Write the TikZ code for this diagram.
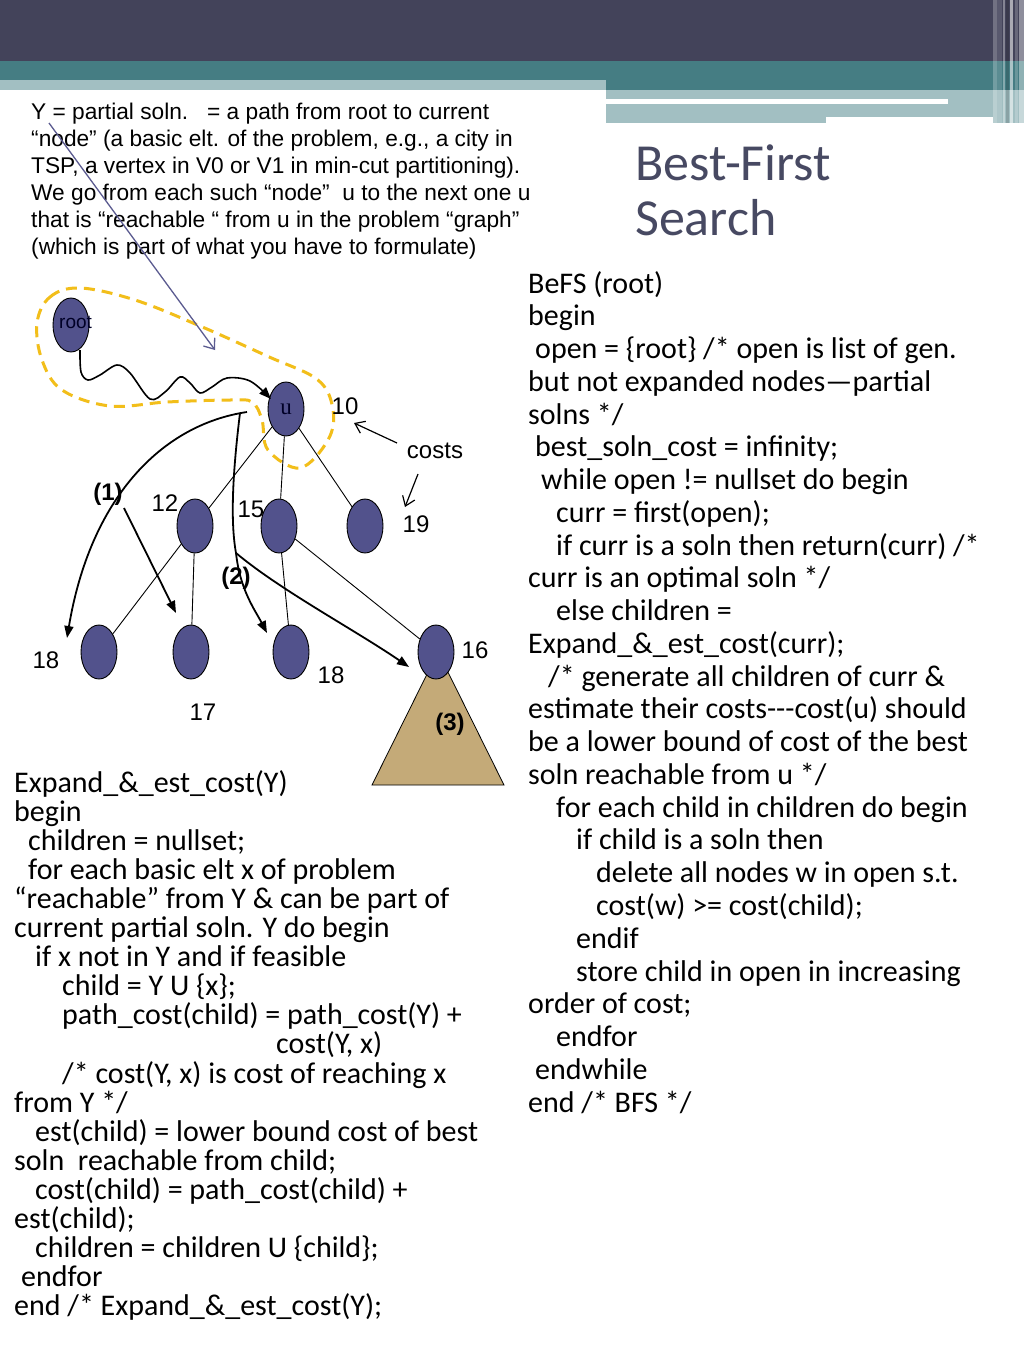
\documentclass[tikz,border=0pt]{standalone}
\usepackage{fontspec}
\setmainfont{Carlito}
\newfontfamily\arialf{Liberation Sans}
\newfontfamily\timesf{Liberation Serif}
\usetikzlibrary{shapes.geometric,arrows.meta}
\definecolor{darkband}{HTML}{43435A}
\definecolor{tealband}{HTML}{457D83}
\definecolor{lightteal}{HTML}{A2BFC2}
\definecolor{nodeblue}{RGB}{82,82,140}
\definecolor{titlecol}{HTML}{474962}
\definecolor{loopyellow}{HTML}{F2BE1A}
\definecolor{pointer}{HTML}{5B5B90}
\definecolor{treetan}{RGB}{196,170,120}
\tikzset{
  vnode/.style={ellipse, draw=black, line width=0.9pt, fill=nodeblue, minimum width=36pt, minimum height=54pt, inner sep=0pt},
  codeline/.style={anchor=base west, inner sep=0pt, font=\fontsize{30}{33}\selectfont},
  noteline/.style={anchor=base west, inner sep=0pt, font=\arialf\fontsize{22.7}{27}\selectfont},
  numlab/.style={inner sep=0pt, font=\arialf\fontsize{24}{28}\selectfont},
  boldlab/.style={inner sep=0pt, font=\arialf\bfseries\fontsize{24}{28}\selectfont},
  thinedge/.style={line width=0.9pt},
  bigarrow/.style={line width=1.8pt, -{Triangle[length=12pt,width=9pt]}},
  openarrow/.style={line width=1.2pt, -{Straight Barb[length=9pt,width=13pt]}},
}
\begin{document}
\begin{tikzpicture}[x=1pt,y=-1pt]
\useasboundingbox (0,0) rectangle (1024,1365);
\fill[white] (0,0) rectangle (1024,1365);
% header bands
\fill[darkband] (0,0) rectangle (1024,61);
\fill[tealband] (0,61) rectangle (1024,90);
\fill[lightteal] (0,80) rectangle (606,90);
\fill[lightteal] (606,90) rectangle (1024,99);
\fill[lightteal] (948,99) rectangle (1024,117);
\fill[lightteal] (606,104) rectangle (826,123);
\fill[lightteal] (826,104) rectangle (1004,117);
\fill[lightteal] (993,90) rectangle (1024,123);
% right edge stripes
\fill[white,opacity=0.25] (993,0) rectangle (997,123);
\fill[white,opacity=0.12] (997,0) rectangle (1002,123);
\fill[white,opacity=0.35] (1003,0) rectangle (1005,123);
\fill[black,opacity=0.15] (1006,0) rectangle (1009,123);
\fill[white,opacity=0.55] (1010,0) rectangle (1013,123);
\fill[white,opacity=0.2] (1015,0) rectangle (1018,123);
\fill[white,opacity=0.4] (1019,0) rectangle (1024,123);

% title
\node[anchor=base west, inner sep=0pt, text=titlecol, font=\fontsize{52}{55}\selectfont] (title1) at (635,180) {Best-First};
\node[anchor=base west, inner sep=0pt, text=titlecol, font=\fontsize{52}{55}\selectfont] (title2) at (635,235) {Search};

% note text top left
\node[noteline] (n1) at (31,119) {Y = partial soln.~~~= a path from root to current};
\node[noteline] (n2) at (31,146) {“node” (a basic elt. of the problem, e.g., a city in};
\node[noteline] (n3) at (31,173) {TSP, a vertex in V0 or V1 in min-cut partitioning).};
\node[noteline] (n4) at (31,200) {We go from each such “node”~ u to the next one u};
\node[noteline] (n5) at (31,227) {that is “reachable “ from u in the problem “graph”};
\node[noteline] (n6) at (31,254) {(which is part of what you have to formulate)};

% yellow loop
\draw[loopyellow, line width=3pt, dash pattern=on 11pt off 7pt]
  plot[smooth cycle, tension=0.6] coordinates {(37,323) (50,297) (80,288) (135,300) (200,326) (267,356) (318,380) (333,410) (328,440) (300,468) (268,450) (262,420) (252,402) (230,400) (167,402) (110,406) (62,390) (42,360)};

% triangle subtree
\draw[fill=treetan, line width=0.8pt] (372,785) -- (438,652) -- (504,785) -- cycle;

% tree nodes
\node[vnode] (root) at (71,325) {};
\node[vnode] (u) at (286,409) {};
\node[vnode] (a) at (195,526) {};
\node[vnode] (b) at (279,526) {};
\node[vnode] (c) at (365,526) {};
\node[vnode] (d) at (99,652) {};
\node[vnode] (e) at (191,652) {};
\node[vnode] (f) at (291,652) {};
\node[vnode] (g) at (436,652) {};
\node[anchor=west, inner sep=0pt, text=black!85!blue, font=\arialf\fontsize{19}{22}\selectfont] (rootlab) at (59,322) {root};
\node[inner sep=0pt, text=black!85!blue, font=\timesf\fontsize{23}{24}\selectfont] (ulab) at (286,409) {u};

% tree edges
\draw[thinedge] (u) -- (a);
\draw[thinedge] (u) -- (b);
\draw[thinedge] (u) -- (c);
\draw[thinedge] (a) -- (d);
\draw[thinedge] (a) -- (e);
\draw[thinedge] (b) -- (f);
\draw[thinedge] (b) -- (g);

% wavy path root -> u
\draw[line width=1.6pt, -{Triangle[length=12pt,width=9pt]}]
  plot[smooth, tension=0.55] coordinates {(80,350) (81,372) (88,380) (100,375) (117,365) (130,373) (150,399) (165,392) (180,377) (190,383) (200,393) (212,387) (227,378) (250,381) (271,399)};

% pointer from note
\coordinate (pstart) at (49,123);
\coordinate (pend) at (215,350);
\draw[pointer, line width=1.3pt, -{Straight Barb[length=9pt,width=14pt]}] (pstart) -- (pend);

% arrows (1)
\coordinate (s1) at (247,412);
\coordinate (d1) at (67,638);
\draw[bigarrow] (s1) .. controls (160,425) and (90,500) .. (d1);
\coordinate (s1b) at (124,508);
\coordinate (e1) at (176,613);
\draw[bigarrow] (s1b) -- (e1);

% arrows (2)
\coordinate (s2) at (240,413);
\coordinate (j2) at (236,553);
\coordinate (f2) at (267,633);
\coordinate (g2) at (409,667);
\draw[line width=1.8pt] (s2) .. controls (233,470) and (230,520) .. (j2);
\draw[bigarrow] (j2) .. controls (240,590) and (255,610) .. (f2);
\draw[bigarrow] (j2) .. controls (280,590) and (355,630) .. (g2);

% cost labels
\node[numlab] (l10) at (345,406) {10};
\node[numlab] (lcosts) at (435,451) {costs};
\node[numlab] (l19) at (416,524) {19};
\node[numlab] (l12) at (165,503) {12};
\node[numlab] (l15) at (251,509) {15};
\node[numlab] (l18a) at (46,660) {18};
\node[numlab] (l18b) at (331,675) {18};
\node[numlab] (l17) at (203,712) {17};
\node[numlab] (l16) at (475,650) {16};
\node[boldlab] (b1) at (108,494) {(1)};
\node[boldlab] (b2) at (236,578) {(2)};
\node[boldlab] (b3) at (450,724) {(3)};

% costs arrows
\coordinate (c1s) at (397,443);
\coordinate (c1e) at (354,423);
\coordinate (c2s) at (418,474);
\coordinate (c2e) at (405,507);
\draw[openarrow] (c1s) -- (c1e);
\draw[openarrow] (c2s) -- (c2e);

% right column code
\node[codeline] (r1) at (528,293) {BeFS (root)};
\node[codeline] (r2) at (528,325.8) {begin};
\node[codeline] (r3) at (535,358.5) {open = \{root\} /* open is list of gen.};
\node[codeline] (r4) at (528,391.3) {but not expanded nodes—partial};
\node[codeline] (r5) at (528,424.0) {solns */};
\node[codeline] (r6) at (535,456.8) {best\_soln\_cost = infinity;};
\node[codeline] (r7) at (541,489.6) {while open != nullset do begin};
\node[codeline] (r8) at (556,522.3) {curr = first(open);};
\node[codeline] (r9) at (556,555.1) {if curr is a soln then return(curr) /*};
\node[codeline] (r10) at (528,587.8) {curr is an optimal soln */};
\node[codeline] (r11) at (556,620.6) {else children =};
\node[codeline] (r12) at (528,653.4) {Expand\_\&\_est\_cost(curr);};
\node[codeline] (r13) at (548,686.1) {/* generate all children of curr \&};
\node[codeline] (r14) at (528,718.9) {estimate their costs-{}-{}-cost(u) should};
\node[codeline] (r15) at (528,751.6) {be a lower bound of cost of the best};
\node[codeline] (r16) at (528,784.4) {soln reachable from u */};
\node[codeline] (r17) at (556,817.2) {for each child in children do begin};
\node[codeline] (r18) at (576,849.9) {if child is a soln then};
\node[codeline] (r19) at (596,882.7) {delete all nodes w in open s.t.};
\node[codeline] (r20) at (596,915.4) {cost(w) >= cost(child);};
\node[codeline] (r21) at (576,948.2) {endif};
\node[codeline] (r22) at (576,981.0) {store child in open in increasing};
\node[codeline] (r23) at (528,1013.7) {order of cost;};
\node[codeline] (r24) at (556,1046.5) {endfor};
\node[codeline] (r25) at (535,1079.2) {endwhile};
\node[codeline] (r26) at (528,1112.0) {end /* BFS */};

% left column code
\node[codeline] (q1) at (14,792) {Expand\_\&\_est\_cost(Y)};
\node[codeline] (q2) at (14,821.1) {begin};
\node[codeline] (q3) at (28,850.2) {children = nullset;};
\node[codeline] (q4) at (28,879.3) {for each basic elt x of problem};
\node[codeline] (q5) at (14,908.4) {“reachable” from Y \& can be part of};
\node[codeline] (q6) at (14,937.5) {current partial soln. Y do begin};
\node[codeline] (q7) at (35,966.6) {if x not in Y and if feasible};
\node[codeline] (q8) at (62,995.7) {child = Y U \{x\};};
\node[codeline] (q9) at (62,1024.8) {path\_cost(child) = path\_cost(Y) +};
\node[codeline] (q10) at (276,1053.9) {cost(Y, x)};
\node[codeline] (q11) at (62,1083.0) {/* cost(Y, x) is cost of reaching x};
\node[codeline] (q12) at (14,1112.1) {from Y */};
\node[codeline] (q13) at (35,1141.2) {est(child) = lower bound cost of best};
\node[codeline] (q14) at (14,1170.3) {soln~ reachable from child;};
\node[codeline] (q15) at (35,1199.4) {cost(child) = path\_cost(child) +};
\node[codeline] (q16) at (14,1228.5) {est(child);};
\node[codeline] (q17) at (35,1257.6) {children = children U \{child\};};
\node[codeline] (q18) at (21,1286.7) {endfor};
\node[codeline] (q19) at (14,1315.8) {end /* Expand\_\&\_est\_cost(Y);};
\end{tikzpicture}
\end{document}
